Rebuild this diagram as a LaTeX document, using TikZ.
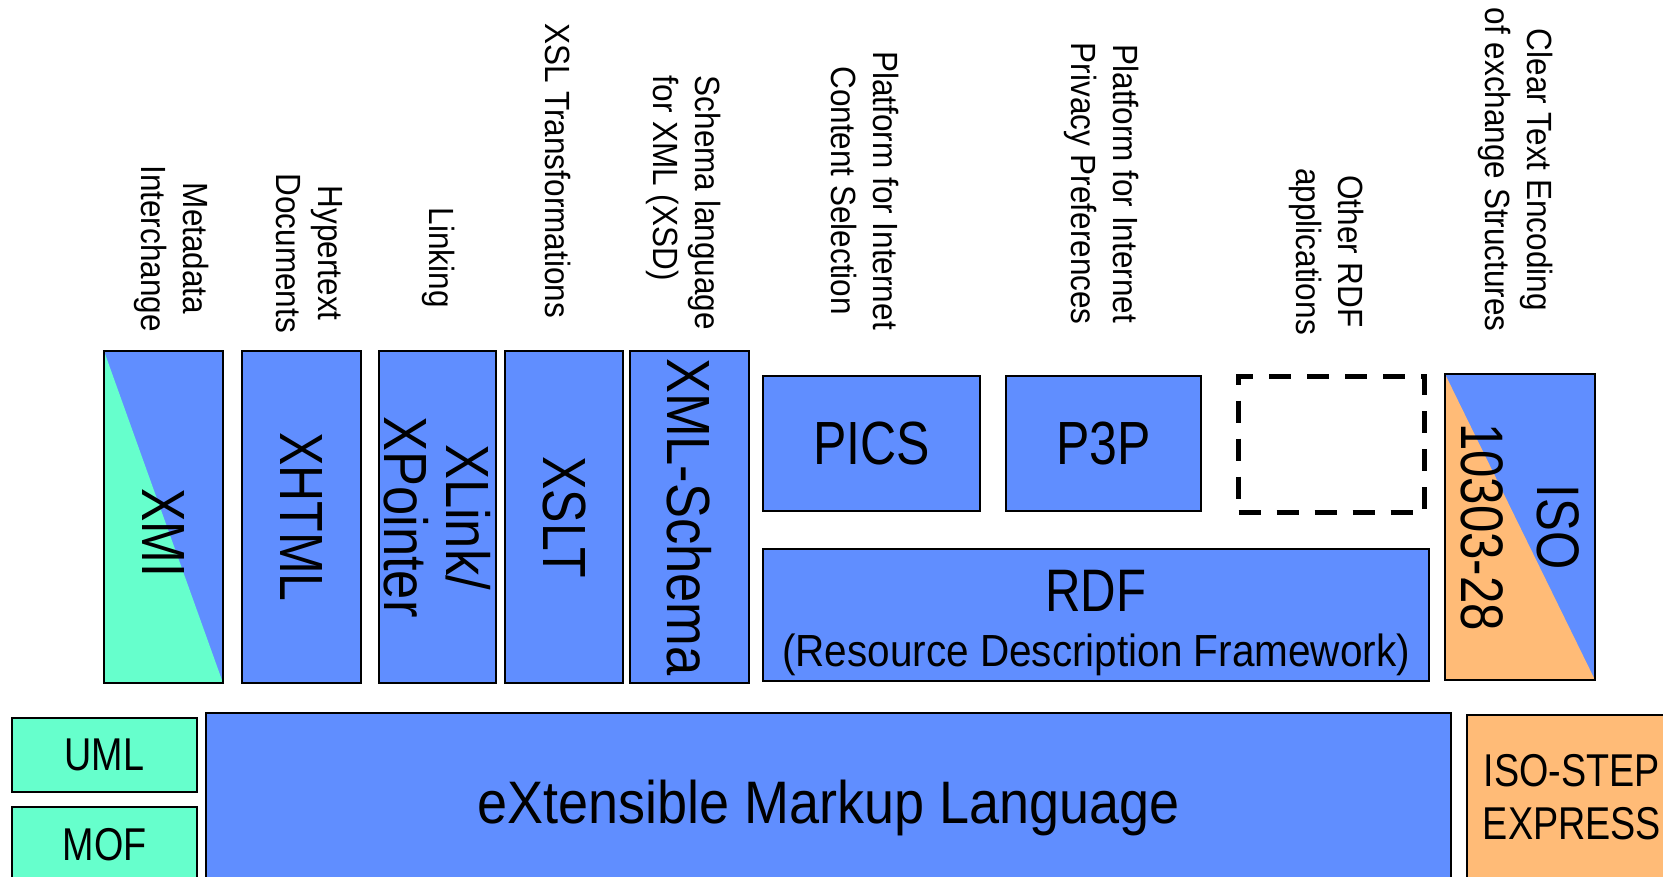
\documentclass[tikz,border=0pt]{standalone}
\usepackage{fontspec}
\newfontfamily\narrowsans[FakeStretch=0.86]{Liberation Sans}
\newfontfamily\capsans[FakeStretch=0.82]{Liberation Sans}
\newfontfamily\tagsans[FakeStretch=0.9]{Liberation Sans}
\usetikzlibrary{positioning}
\definecolor{xmlblue}{RGB}{96,142,255}
\definecolor{umlgreen}{RGB}{102,255,204}
\definecolor{steporange}{RGB}{255,187,119}
\tikzset{
    box/.style={draw=black, line width=2pt, fill=xmlblue, inner sep=0pt, anchor=north west,
        font=\capsans\fontsize{61}{60}\selectfont},
    wh/.style 2 args={minimum width=#1pt, minimum height=#2pt},
    half/.style={path picture={\fill[#1] (path picture bounding box.north west)
        -- (path picture bounding box.south east) -- (path picture bounding box.south west) -- cycle;}}
}

\begin{document}
\begin{tikzpicture}[x=1pt,y=-1pt]
\tikzstyle{tag}=[rotate=-90, anchor=east, align=center, inner sep=0pt,
    font=\tagsans\fontsize{35}{42}\selectfont]
\tikzstyle{small}=[font=\capsans\fontsize{46}{53}\selectfont]

\useasboundingbox (0,0) rectangle (1663,877);
\clip (0,0) rectangle (1663,877);

\node[box, half=umlgreen, wh={119}{332}] (xmi) at (103,350) {\rotatebox{-90}{\hspace*{32pt}XMI}};
\node[box, wh={119}{332}] (xhtml) at (241,350) {\rotatebox{-90}{XHTML}};
\node[box, wh={117}{332}, font=\narrowsans\fontsize{61}{60}\selectfont] (xlink) at (378,350)
    {\rotatebox{-90}{\shortstack{XLink/\\[14pt]XPointer}}};
\node[box, wh={118}{332}] (xslt) at (504,350) {\rotatebox{-90}{XSLT}};
\node[box, wh={119}{332}, font=\narrowsans\fontsize{61}{60}\selectfont] (xsd) at (629,350) {\rotatebox{-90}{XML-Schema}};

\node[box, wh={217}{135}] (pics) at (762,375) {PICS};
\node[box, wh={195}{135}] (p3p) at (1005,375) {P3P};
\node[box, fill=none, line width=5pt, dash pattern=on 22pt off 16pt, wh={186}{136}] (other) at (1236,374) {};
\node[box, wh={666}{132}, align=center, font=\tagsans\fontsize{45}{55}\selectfont] (rdf) at (762,548)
    {\rule{0pt}{57pt}{\capsans\fontsize{60}{55}\selectfont RDF}\\(Resource Description Framework)};
\node[box, half=steporange, wh={150}{306}, font=\capsans\fontsize{60}{76}\selectfont] (iso) at (1444,373)
    {\rotatebox{-90}{\shortstack{ISO\\[30pt]10303-28}}};

\node[box, small, fill=umlgreen, wh={185}{74}] (uml) at (11,717) {UML};
\node[box, small, fill=umlgreen, wh={185}{75}] (mof) at (11,806) {MOF};
\node[box, wh={1245}{190}, font=\tagsans\fontsize{60}{66}\selectfont] (xml) at (205,712) {eXtensible Markup Language};
\node[box, small, fill=steporange, wh={210}{164}, align=center] (step) at (1466,714) {ISO-STEP\\EXPRESS};

\node[tag] (lmeta) at (171.5,332) {Metadata\\Interchange};
\node[tag] (lhyper) at (309,333) {Hypertext\\Documents};
\node[tag] (llink) at (439,308) {Linking};
\node[tag] (lxsl) at (558.5,318) {XSL Transformations};
\node[tag, align=left] (lschema) at (684,330) {Schema language\\for XML (XSD)};
\node[tag] (lpics) at (865,330) {Platform for Internet\\Content Selection};
\node[tag] (lp3p) at (1102,325) {Platform for Internet\\Privacy Preferences};
\node[tag] (lother) at (1326.5,335) {Other RDF\\applications};
\node[tag] (lclear) at (1515.5,332) {Clear Text Encoding\\of exchange Structures};
\end{tikzpicture}
\end{document}
